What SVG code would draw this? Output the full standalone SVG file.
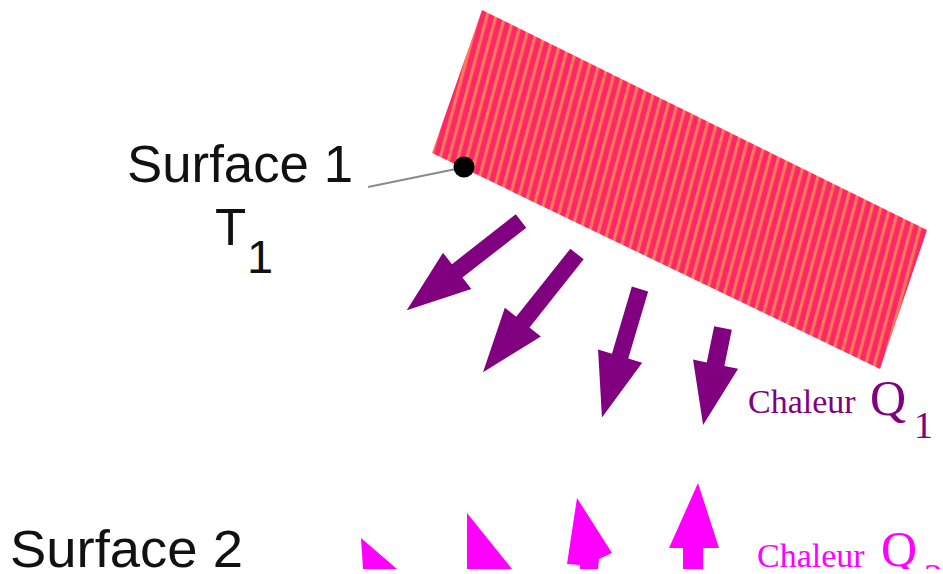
<svg xmlns="http://www.w3.org/2000/svg" width="943" height="574" viewBox="0 0 943 574">
  <style>
    .lbl { font-family: "Liberation Sans", Arial, sans-serif; fill: #111; }
    .heat { font-family: "Liberation Serif", "Times New Roman", serif; }
    .q1 { fill: #800080; }
    .q2 { fill: #FF00FF; }
    .arrow1 { fill: #800080; }
    .arrow2 { fill: #FF00FF; }
  </style>
  <defs>
    <pattern id="stripes" patternUnits="userSpaceOnUse" width="8.6" height="20" patternTransform="rotate(15)">
      <rect x="0" y="0" width="8.6" height="20" fill="#FF2766"/>
      <rect x="0" y="0" width="3.2" height="20" fill="#FF7A5A"/>
    </pattern>
    <clipPath id="clipBottom">
      <rect x="0" y="0" width="943" height="569"/>
    </clipPath>
  </defs>
  <rect width="943" height="574" fill="#fff"/>

  <g id="surface1-plate">
    <polygon points="482,10 927,230 880,369 432,153" fill="url(#stripes)"/>
  </g>

  <g id="connectors">
    <line x1="368" y1="187" x2="456" y2="169" stroke="#8a8a8a" stroke-width="2"/>
  </g>

  <g id="surface1-point">
    <circle cx="464" cy="167" r="10.5" fill="#000"/>
  </g>

  <g id="surface1-label">
    <text class="lbl" x="127" y="182" font-size="51" textLength="226" lengthAdjust="spacingAndGlyphs">Surface 1</text>
    <text class="lbl" x="215" y="245" font-size="51">T</text>
    <text class="lbl" x="247" y="273" font-size="47">1</text>
  </g>

  <g id="heat-q1-arrows" class="arrow1">
    <polygon points="0,-8.5 81,-8.5 81,-23 145,0 81,23 81,8.5 0,8.5" transform="translate(521,221) rotate(142)"/>
    <polygon points="0,-8.5 87,-8.5 87,-23 151,0 87,23 87,8.5 0,8.5" transform="translate(577,254) rotate(128.5)"/>
    <polygon points="0,-8.5 70,-8.5 70,-23 134,0 70,23 70,8.5 0,8.5" transform="translate(640,289) rotate(106.5)"/>
    <polygon points="0,-9 37,-9 37,-23 99,0 37,23 37,9 0,9" transform="translate(723,328) rotate(101.6)"/>
  </g>

  <g id="heat-q1-label">
    <text class="heat q1" x="748" y="413" font-size="34">Chaleur</text>
    <text class="heat q1" x="870" y="415" font-size="50">Q</text>
    <text class="heat q1" x="914" y="438" font-size="38">1</text>
  </g>

  <g id="heat-q2-arrows" class="arrow2" clip-path="url(#clipBottom)">
    <polygon points="361,538 397,569 363,569"/>
    <polygon points="467,513 512,569 467,569"/>
    <polygon points="577,498 612,553 599,559 598,569 580,569 580,565 567,564"/>
    <polygon points="698,483 719,548 703,548 703,569 683,569 683,548 669,548"/>
  </g>

  <g id="heat-q2-label" clip-path="url(#clipBottom)">
    <text class="heat q2" x="757" y="567" font-size="34">Chaleur</text>
    <text class="heat q2" x="881" y="566" font-size="50">Q</text>
    <text class="heat q2" x="924" y="590" font-size="38">2</text>
  </g>

  <g id="surface2-label">
    <text class="lbl" x="10" y="567" font-size="51" textLength="233" lengthAdjust="spacingAndGlyphs">Surface 2</text>
  </g>
</svg>
